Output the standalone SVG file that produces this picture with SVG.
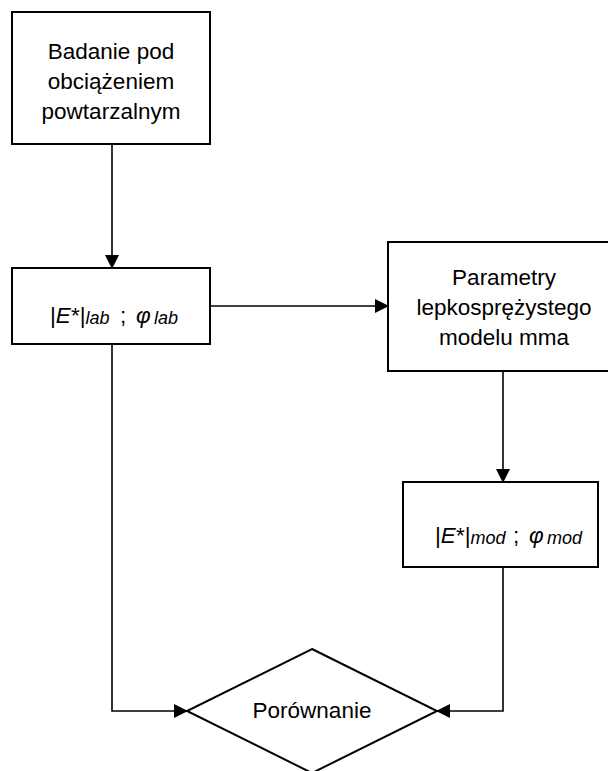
<svg xmlns="http://www.w3.org/2000/svg" width="608" height="771" viewBox="0 0 608 771">
<defs>
<marker id="arr" markerUnits="userSpaceOnUse" markerWidth="14" markerHeight="14" viewBox="0 0 14 14" refX="13" refY="7" orient="auto">
<path d="M0,0 L14,7 L0,14 Z" fill="#000"/>
</marker>
<style>
.box{fill:#fff;stroke:#000;stroke-width:2}
.t{font-family:"Liberation Sans",Arial,sans-serif;font-size:22.5px;fill:#000}
.c{text-anchor:middle}
.i{font-style:italic}
.s{font-size:18px;font-style:italic}
.ln{fill:none;stroke:#000;stroke-width:1.6}
</style>
</defs>
<rect width="608" height="771" fill="#fff"/>
<g id="connectors">
<path class="ln" d="M112,144 L112,268" marker-end="url(#arr)"/>
<path class="ln" d="M210,306 L388,306" marker-end="url(#arr)"/>
<path class="ln" d="M503,371 L503,482" marker-end="url(#arr)"/>
<path class="ln" d="M112,344 L112,711 L187,711" marker-end="url(#arr)"/>
<path class="ln" d="M503,567 L503,711 L437,711" marker-end="url(#arr)"/>
</g>
<g id="n1">
<rect class="box" x="12" y="12" width="198" height="132"/>
<text class="t c" x="111" y="59">Badanie pod</text>
<text class="t c" x="111" y="89">obciążeniem</text>
<text class="t c" x="111" y="119">powtarzalnym</text>
</g>
<g id="n2">
<rect class="box" x="12" y="268" width="198" height="76"/>
<text class="t" x="50" y="323">|<tspan class="i">E</tspan>*|<tspan class="s" dy="1">lab</tspan><tspan x="120" dy="-1">;</tspan><tspan class="i" x="136">φ</tspan><tspan class="s" x="154" dy="1">lab</tspan></text>
</g>
<g id="n3">
<rect class="box" x="388" y="242" width="240" height="129"/>
<text class="t c" x="504" y="285">Parametry</text>
<text class="t c" x="504" y="315">lepkosprężystego</text>
<text class="t c" x="504" y="345">modelu mma</text>
</g>
<g id="n4">
<rect class="box" x="403" y="482" width="195" height="85"/>
<text class="t" x="435" y="543">|<tspan class="i">E</tspan>*|<tspan class="s" dy="1">mod</tspan><tspan x="513" dy="-1">;</tspan><tspan class="i" x="529">φ</tspan><tspan class="s" x="547" dy="1">mod</tspan></text>
</g>
<g id="n5">
<path class="box" d="M312,649 L437,711 L312,773 L187,711 Z"/>
<text class="t c" x="312" y="718">Porównanie</text>
</g>
</svg>
